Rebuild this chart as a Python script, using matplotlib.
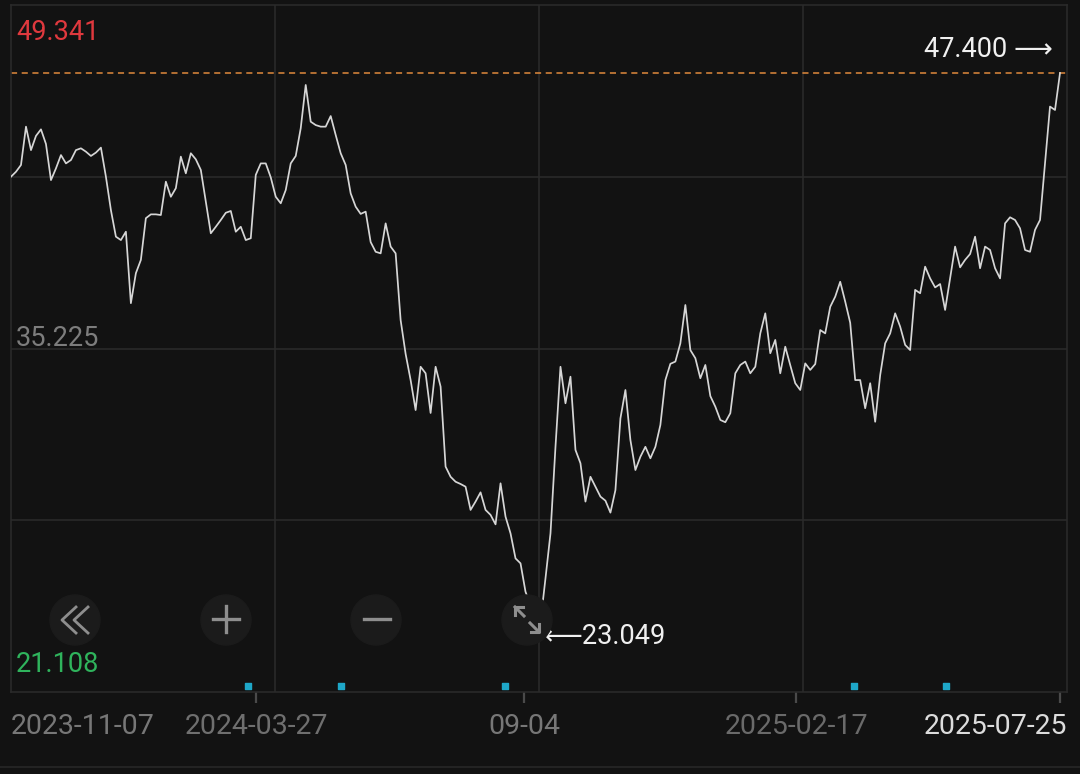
import matplotlib
matplotlib.use("Agg")
import matplotlib.pyplot as plt
from matplotlib.patches import Circle

# closing prices, one point per ~2 trading days, 2023-11-07 .. 2025-07-25
prices = [
    42.80, 43.02, 43.32, 45.02, 43.98, 44.61, 44.90, 44.25, 42.65, 43.17,
    43.76, 43.39, 43.54, 43.98, 44.06, 43.91, 43.72, 43.87, 44.09, 42.80,
    41.32, 40.14, 39.99, 40.36, 37.19, 38.52, 39.11, 40.96, 41.13, 41.13,
    41.10, 42.58, 41.91, 42.29, 43.69, 42.95, 43.84, 43.57, 43.10, 41.69,
    40.29, 40.58, 40.88, 41.20, 41.28, 40.36, 40.58, 39.99, 40.07, 42.88,
    43.39, 43.39, 42.77, 41.91, 41.62, 42.21, 43.39, 43.72, 44.95, 46.87,
    45.24, 45.09, 45.02, 45.02, 45.49, 44.65, 43.84, 43.32, 42.06, 41.47,
    41.15, 41.25, 39.90, 39.47, 39.40, 40.73, 39.70, 39.40, 36.44, 34.94,
    33.78, 32.45, 34.37, 34.08, 32.32, 34.37, 33.49, 29.94, 29.49, 29.27,
    29.17, 29.05, 28.02, 28.39, 28.80, 28.02, 27.80, 27.38, 29.20, 27.72,
    26.98, 25.87, 25.65, 24.39, 23.80, 23.28, 23.049, 24.99, 26.98, 30.82,
    34.37, 32.75, 33.93, 30.68, 30.09, 28.39, 29.49, 29.05, 28.61, 28.43,
    27.90, 28.90, 32.08, 33.34, 31.12, 29.79, 30.38, 30.82, 30.31, 30.82,
    31.79, 33.78, 34.50, 34.60, 35.41, 37.11, 35.11, 34.75, 33.86, 34.45,
    33.07, 32.60, 32.01, 31.91, 32.31, 34.08, 34.45, 34.60, 34.08, 34.37,
    35.85, 36.74, 34.97, 35.56, 34.08, 35.26, 34.44, 33.64, 33.34, 34.52,
    34.23, 34.49, 36.00, 35.85, 37.03, 37.48, 38.14, 37.26, 36.32, 33.78,
    33.78, 32.53, 33.64, 31.93, 34.00, 35.41, 35.85, 36.74, 36.15, 35.34,
    35.11, 37.78, 37.63, 38.81, 38.29, 37.89, 38.04, 36.89, 38.29, 39.70,
    38.78, 39.11, 39.37, 40.14, 38.74, 39.70, 39.55, 38.74, 38.29, 40.73,
    41.00, 40.88, 40.51, 39.55, 39.47, 40.44, 40.88, 43.39, 45.91, 45.76,
    47.40,
]
tick_pos = [49.05, 102.7, 157.2, 210]
tick_labels = ["2024-03-27", "09-04", "2025-02-17", "2025-07-25"]
first_label = "2023-11-07"
event_pos = [47.4, 66.1, 98.9, 168.8, 187.2]
axis_labels = ["49.341", "35.225", "21.108"]
last_price = 47.400
low_price = 23.049
low_idx = prices.index(low_price)

BG = "#121212"
GRID = "#2a2a2a"
FONT = ["Roboto", "DejaVu Sans"]

fig = plt.figure(figsize=(10.8, 7.74), dpi=100, facecolor=BG)
ax = fig.add_axes([11 / 1080, 82 / 774, 1056 / 1080, 687 / 774], facecolor=BG)
x = list(range(len(prices)))
xmax = 211.4
ax.set_xlim(0, xmax)
ax.set_ylim(19.944, 50.416)
for f in (0.25, 0.5, 0.75):
    ax.axvline(xmax * f, color=GRID, lw=1.2, zorder=0)
    ax.axhline(19.944 + (50.416 - 19.944) * f, color=GRID, lw=1.2, zorder=0)
for s in ax.spines.values():
    s.set_color(GRID)
    s.set_linewidth(1.2)

ax.plot(x, prices, color="#d6d6d6", lw=1.25, zorder=3)
ax.axhline(last_price, color="#e08a3c", lw=1.1, ls=(0, (4, 3)), zorder=2)

# event markers along the bottom
ax.scatter(event_pos, [20.2] * len(event_pos), s=14, marker="s",
           color="#1ea7c8", zorder=4, clip_on=False)

ax.set_xticks(tick_pos)
ax.set_xticklabels([])
ax.set_yticks([])
ax.tick_params(axis="x", direction="out", length=8, width=1.6, color="#4a4a4a")

# y labels at top / middle / bottom
ax.text(5 / 1056, 1 - 27 / 687, axis_labels[0], transform=ax.transAxes,
        color="#e0393e", fontsize=19.5, family=FONT, va="center")
ax.text(5 / 1056, 0.5 + 10 / 687, axis_labels[1], transform=ax.transAxes,
        color="#7d7d7d", fontsize=19.5, family=FONT, va="center")
ax.text(5 / 1056, 27 / 687, axis_labels[2], transform=ax.transAxes,
        color="#2fb35c", fontsize=19.5, family=FONT, va="center")

# date labels
tr = ax.get_xaxis_transform()
ly = -35 / 687
ax.text(0, ly, first_label, transform=tr, color="#777777", fontsize=20.5,
        family=FONT, ha="left", va="center")
cols = ["#6f6f6f", "#777777", "#6a6a6a", "#dcdcdc"]
for p, lab, c in zip(tick_pos, tick_labels, cols):
    if lab == tick_labels[-1]:
        ax.text(xmax, ly, lab, transform=tr, color=c, fontsize=20.5,
                family=FONT, ha="right", va="center")
    else:
        ax.text(p, ly, lab, transform=tr, color=c, fontsize=20.5,
                family=FONT, ha="center", va="center")

# price callouts
ax.annotate(f"{last_price:.3f} ⟶", (len(prices) - 1, last_price),
            xytext=(-7, 23), textcoords="offset pixels", ha="right",
            va="center", color="#f0f0f0", fontsize=19.5, family=FONT)
ax.annotate(f"⟵{low_price:.3f}", (low_idx, low_price),
            xytext=(3, -15), textcoords="offset pixels", ha="left",
            va="center", color="#f0f0f0", fontsize=19.5, family=FONT)

# overlay for the zoom buttons and bottom rule (pixel coords)
ov = fig.add_axes([0, 0, 1, 1], facecolor="none")
ov.set_xlim(0, 1080)
ov.set_ylim(774, 0)
ov.axis("off")
ov.plot([0, 1080], [767, 767], color="#232323", lw=1.5)
ic = "#8e8e8e"
for cx in (75, 226, 376, 527):
    ov.add_patch(Circle((cx, 620), 25, color="#1b1b1b", zorder=1))
for dx in (0, 12):
    ov.plot([76 + dx, 62 + dx, 76 + dx], [607, 620, 633], color=ic, lw=2,
            zorder=2)
ov.plot([213, 239], [619, 619], color=ic, lw=2.4, zorder=2)
ov.plot([226, 226], [606, 632], color=ic, lw=2.4, zorder=2)
ov.plot([364, 390], [619, 619], color=ic, lw=2.4, zorder=2)
# resize icon: two diagonal arrows
ov.plot([524, 515], [616, 607], color=ic, lw=2.2, zorder=2)
ov.plot([523, 515, 515], [607, 607, 615], color=ic, lw=2.2, zorder=2)
ov.plot([530, 539], [623, 632], color=ic, lw=2.2, zorder=2)
ov.plot([531, 539, 539], [632, 632, 624], color=ic, lw=2.2, zorder=2)

fig.savefig("out.png", dpi=100, facecolor=BG)
